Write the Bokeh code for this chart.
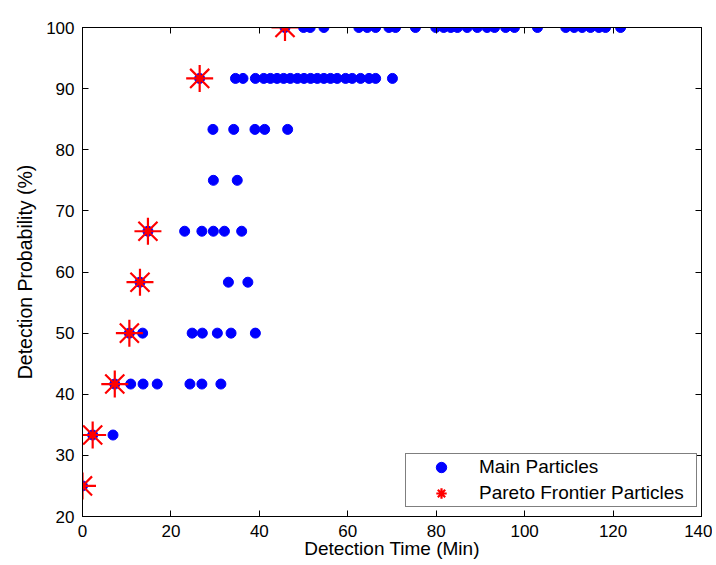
from bokeh.plotting import figure
from bokeh.models import LinearAxis, Legend, LegendItem, FixedTicker, Range1d
from bokeh.embed import file_html
from bokeh.resources import INLINE

# ---- data ----
level_25 = [0.0]
level_33 = [2.3, 6.9]
level_42 = [7.3, 10.9, 13.7, 16.9, 24.3, 27.0, 31.3]
level_50 = [10.6, 13.6, 24.8, 27.1, 30.5, 33.6, 39.1]
level_58 = [13.0, 33.0, 37.4]
level_67 = [14.8, 23.1, 27.0, 29.6, 32.1, 36.0]
level_75 = [29.6, 35.0]
level_83 = [29.5, 34.2, 39.0, 41.2, 46.4]
level_92 = [26.5, 34.6, 36.3, 39.1, 41.0, 42.5, 44.0, 45.5, 47.0, 48.6, 50.1,
            51.6, 53.1, 54.6, 56.1, 57.6, 59.5, 61.0, 62.9, 64.8, 66.3, 70.1]
level_100 = [45.8, 50.0, 51.5, 54.6, 62.5, 64.4, 66.3, 69.3, 70.8, 75.3, 79.9,
             81.7, 83.3, 84.8, 87.0, 89.3, 91.5, 93.2, 95.7, 97.7, 102.9,
             109.3, 111.2, 113.0, 114.9, 116.8, 118.3, 121.7]
levels = [25.0, 33.33, 41.67, 50.0, 58.33, 66.67, 75.0, 83.33, 91.67, 100.0]
main_rows = [level_25, level_33, level_42, level_50, level_58, level_67,
             level_75, level_83, level_92, level_100]

pareto_x = [0.0, 2.3, 7.3, 10.6, 13.0, 14.8, 26.5, 45.8]
pareto_y = [25.0, 33.33, 41.67, 50.0, 58.33, 66.67, 91.67, 100.0]

x_ticks = [0, 20, 40, 60, 80, 100, 120, 140]
y_ticks = [20, 30, 40, 50, 60, 70, 80, 90, 100]

main_x = []
main_y = []
for lv, row in zip(levels, main_rows):
    main_x.extend(row)
    main_y.extend([lv] * len(row))

FONT = "Liberation Sans"

p = figure(width=712, height=565, output_backend="svg", toolbar_location=None,
           x_range=Range1d(0, 140), y_range=Range1d(20, 100),
           min_border_left=82, min_border_top=27, min_border_right=11,
           min_border_bottom=49, x_axis_label="Detection Time (Min)",
           y_axis_label="Detection Probability (%)")
p.xgrid.visible = False
p.ygrid.visible = False
p.outline_line_color = "black"
p.outline_line_width = 1
p.background_fill_color = "white"
p.border_fill_color = "white"

for ax, ticks in ((p.xaxis[0], x_ticks), (p.yaxis[0], y_ticks)):
    ax.ticker = FixedTicker(ticks=ticks)
    ax.major_tick_in = 6
    ax.major_tick_out = 0
    ax.minor_tick_line_color = None
    ax.axis_line_color = "black"
    ax.major_tick_line_color = "black"
    ax.major_label_text_font = FONT
    ax.major_label_text_font_size = "17px"
    ax.major_label_text_color = "black"
    ax.axis_label_text_font = FONT
    ax.axis_label_text_font_style = "normal"
    ax.axis_label_text_color = "black"

p.xaxis[0].axis_label_text_font_size = "19px"
p.yaxis[0].axis_label_text_font_size = "19.5px"
p.xaxis[0].major_label_standoff = 8
p.xaxis[0].axis_label_standoff = -2
p.yaxis[0].major_label_standoff = 8
p.yaxis[0].axis_label_standoff = 7

top = LinearAxis(ticker=FixedTicker(ticks=x_ticks))
right = LinearAxis(ticker=FixedTicker(ticks=y_ticks))
for ax in (top, right):
    ax.major_tick_in = 6
    ax.major_tick_out = 0
    ax.minor_tick_line_color = None
    ax.axis_line_color = "black"
    ax.major_tick_line_color = "black"
    ax.major_label_text_font_size = "1px"
    ax.major_label_text_color = None
    ax.major_label_standoff = 0
p.add_layout(top, "above")
p.add_layout(right, "right")

r_main = p.scatter(main_x, main_y, marker="circle", size=10,
                   fill_color="#0000FF", line_color="#0000FF")
r_par = p.scatter(pareto_x, pareto_y, marker="asterisk", size=27,
                  line_color="#FF0000", line_width=2.2)
p.scatter(pareto_x, pareto_y, marker="circle", size=6,
          fill_color="#FF0000", line_color="#FF0000")

legend = Legend(items=[LegendItem(label="Main Particles", renderers=[r_main]),
                       LegendItem(label="Pareto Frontier Particles", renderers=[r_par])],
                location=(323, 9))
legend.glyph_width = 70
legend.glyph_height = 26
legend.label_height = 26
legend.label_width = 217
legend.label_standoff = 3
legend.padding = 0
legend.spacing = 0
legend.margin = 0
legend.label_text_font = FONT
legend.label_text_font_size = "19px"
legend.label_text_color = "black"
legend.border_line_color = "black"
legend.border_line_width = 1
legend.background_fill_alpha = 1
p.add_layout(legend, "center")

open("out.html", "w").write(file_html(p, INLINE))
